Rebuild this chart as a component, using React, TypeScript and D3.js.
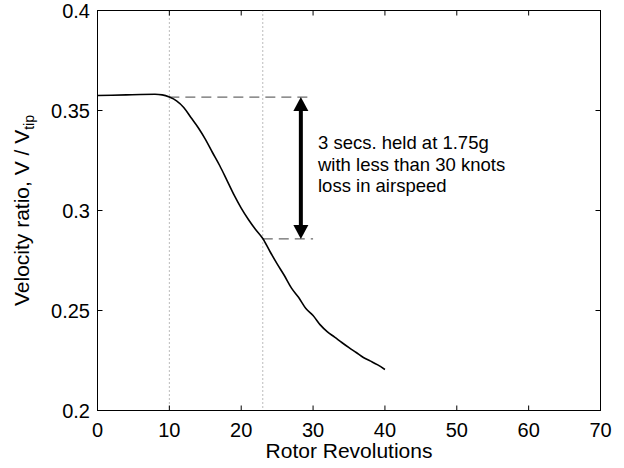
import { useMemo } from 'react'
import * as d3 from 'd3'

// ── data ─────────────────────────────────────────────────────────────────────
const REVS  = [0, 2, 4, 6, 8, 9, 10, 11, 12, 13, 14, 15, 16, 17, 18, 19, 20, 21, 22, 23,
               24, 25, 26, 27, 28, 29, 30, 31, 32, 33, 34, 35, 36, 37, 38, 39, 40]
const RATIO = [0.3575, 0.3576, 0.3578, 0.3580, 0.3581, 0.3578, 0.3567, 0.3548, 0.3515, 0.3465,
               0.3415, 0.3357, 0.3290, 0.3225, 0.3152, 0.3078, 0.3012, 0.2955, 0.2905, 0.2860,
               0.2795, 0.2733, 0.2675, 0.2612, 0.2565, 0.2510, 0.2475, 0.2428, 0.2393, 0.2367,
               0.2340, 0.2314, 0.2290, 0.2265, 0.2247, 0.2228, 0.2205]
const X_TICKS = [0, 10, 20, 30, 40, 50, 60, 70]
const Y_TICKS = [0.2, 0.25, 0.3, 0.35, 0.4]
const V_MARKS = [10, 23]                        // dotted verticals
const H_MARKS = [{ x0: 10, x1: 30, v: 0.3567 }, { x0: 23, x1: 30, v: 0.2858 }]
const ARROW   = { x: 28.3, v0: 0.3567, v1: 0.2858 }
const NOTE    = ['3 secs. held at 1.75g', 'with less than 30 knots', 'loss in airspeed']

// ── layout ───────────────────────────────────────────────────────────────────
const W = 624, H = 468
const L = 97.5, R = 600.5, T = 10.5, B = 410.5
const FONT = '"Liberation Sans", Arial, Helvetica, sans-serif'
const TICK = 5

export default function App() {
  const x = useMemo(() => d3.scaleLinear().domain([0, 70]).range([L, R]), [])
  const y = useMemo(() => d3.scaleLinear().domain([0.2, 0.4]).range([B, T]), [])

  const pts = REVS.map((r, i) => [r, RATIO[i]] as [number, number])
  const line = d3.line<[number, number]>()
    .x(d => x(d[0]))
    .y(d => y(d[1]))
    .curve(d3.curveMonotoneX)

  const ax = x(ARROW.x)
  const ay0 = y(ARROW.v0), ay1 = y(ARROW.v1)
  const HL = 14, HW = 7.5

  return (
    <svg width={W} height={H} viewBox={`0 0 ${W} ${H}`}
      style={{ position: 'absolute', left: 0, top: 0, background: '#fff', fontFamily: FONT }}>
      <rect width={W} height={H} fill="#fff" />

      {/* dotted verticals */}
      {V_MARKS.map(v => (
        <line key={v} x1={x(v)} x2={x(v)} y1={T} y2={B}
          stroke="#777" strokeWidth={1} strokeDasharray="1,3" />
      ))}

      {/* dashed reference lines */}
      {H_MARKS.map((h, i) => (
        <line key={i} x1={x(h.x0)} x2={x(h.x1)} y1={y(h.v)} y2={y(h.v)}
          stroke="#444" strokeWidth={1} strokeDasharray="10,6" />
      ))}

      {/* curve */}
      <path d={line(pts) ?? ''} fill="none" stroke="#000" strokeWidth={1.6} strokeLinejoin="round" />

      {/* double arrow */}
      <line x1={ax} x2={ax} y1={ay0 + HL - 1} y2={ay1 - HL + 1} stroke="#000" strokeWidth={4} />
      <polygon points={`${ax},${ay0} ${ax - HW},${ay0 + HL} ${ax + HW},${ay0 + HL}`} fill="#000" />
      <polygon points={`${ax},${ay1} ${ax - HW},${ay1 - HL} ${ax + HW},${ay1 - HL}`} fill="#000" />

      {/* note */}
      <text x={318} y={149} fontSize={18.5} fill="#000">
        {NOTE.map((t, i) => (
          <tspan key={i} x={318} dy={i === 0 ? 0 : 21.5}>{t}</tspan>
        ))}
      </text>

      {/* box */}
      <rect x={L} y={T} width={R - L} height={B - T} fill="none" stroke="#000" strokeWidth={1} />

      {/* ticks */}
      {X_TICKS.map(t => (
        <g key={'x' + t}>
          <line x1={x(t)} x2={x(t)} y1={B} y2={B - TICK} stroke="#000" />
          <line x1={x(t)} x2={x(t)} y1={T} y2={T + TICK} stroke="#000" />
          <text x={x(t)} y={436.5} fontSize={20} textAnchor="middle" fill="#000">{t}</text>
        </g>
      ))}
      {Y_TICKS.map(t => (
        <g key={'y' + t}>
          <line x1={L} x2={L + TICK} y1={y(t)} y2={y(t)} stroke="#000" />
          <line x1={R} x2={R - TICK} y1={y(t)} y2={y(t)} stroke="#000" />
          <text x={90} y={y(t)} dy="0.36em" fontSize={20} textAnchor="end" fill="#000">{t}</text>
        </g>
      ))}

      {/* axis labels */}
      <text x={(L + R) / 2} y={458.3} fontSize={21} textAnchor="middle" fill="#000">Rotor Revolutions</text>
      <text transform={`translate(29,${(T + B) / 2}) rotate(-90)`} fontSize={21} textAnchor="middle" fill="#000">
        Velocity ratio,  V / V<tspan fontSize={14} dy={5}>tip</tspan>
      </text>
    </svg>
  )
}
